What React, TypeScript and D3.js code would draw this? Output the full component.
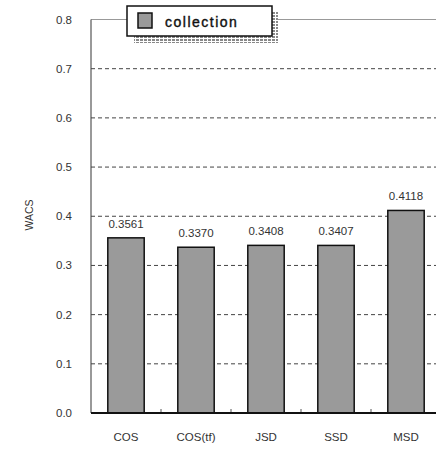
import React from "react";
import * as d3 from "d3";

const categories = ["COS", "COS(tf)", "JSD", "SSD", "MSD"];
const values = [0.3561, 0.337, 0.3408, 0.3407, 0.4118];
const valueLabels = ["0.3561", "0.3370", "0.3408", "0.3407", "0.4118"];
const yTicks = [0, 0.1, 0.2, 0.3, 0.4, 0.5, 0.6, 0.7, 0.8];
const seriesName = "collection";
const yTitle = "WACS";

const W = 436;
const H = 450;
const plot = { left: 91, right: 441, top: 19.5, bottom: 413 };
const font = "'Liberation Sans', Arial, sans-serif";

export default function App() {
  const x = d3
    .scaleBand<string>()
    .domain(categories)
    .range([plot.left, plot.right])
    .paddingInner(0.48)
    .paddingOuter(0.24);
  const y = d3.scaleLinear().domain([0, 0.8]).range([plot.bottom, plot.top]);
  const fmt = d3.format(".1f");
  const step = x.step();

  return (
    <svg
      width={W}
      height={H}
      style={{ position: "absolute", left: 0, top: 0, background: "#fff" }}
    >
      <defs>
        <pattern id="shadowHatch" width="4" height="3" patternUnits="userSpaceOnUse">
          <rect width="4" height="3" fill="#fff" />
          <rect width="3" height="2" fill="#888" />
        </pattern>
      </defs>

      {/* plot frame */}
      <line x1={plot.left} x2={W} y1={plot.top} y2={plot.top} stroke="#999" strokeWidth={1} />
      <line x1={plot.left} x2={plot.left} y1={plot.top} y2={plot.bottom} stroke="#555" strokeWidth={1.2} />

      {/* dashed gridlines */}
      {yTicks
        .filter((t) => t > 0 && t < 0.8)
        .map((t) => (
          <line
            key={t}
            x1={plot.left}
            x2={W}
            y1={y(t)}
            y2={y(t)}
            stroke="#444"
            strokeWidth={1}
            strokeDasharray="4,3"
          />
        ))}

      {/* y tick labels */}
      {yTicks.map((t) => (
        <text
          key={t}
          x={72}
          y={y(t) + 4}
          textAnchor="end"
          fontFamily={font}
          fontSize={11.5}
          fill="#333"
        >
          {fmt(t)}
        </text>
      ))}

      {/* y title */}
      <text
        transform={`translate(33,${215}) rotate(-90)`}
        textAnchor="middle"
        fontFamily={font}
        fontSize={10.5}
        fill="#333"
      >
        {yTitle}
      </text>

      {/* bars */}
      {categories.map((c, i) => (
        <rect
          key={c}
          x={x(c)}
          y={y(values[i])}
          width={x.bandwidth()}
          height={plot.bottom - y(values[i])}
          fill="#9a9a9a"
          stroke="#111"
          strokeWidth={1.5}
        />
      ))}

      {/* value labels */}
      {categories.map((c, i) => (
        <text
          key={c}
          x={(x(c) as number) + x.bandwidth() / 2}
          y={y(values[i]) - 10}
          textAnchor="middle"
          fontFamily={font}
          fontSize={11.5}
          fill="#333"
        >
          {valueLabels[i]}
        </text>
      ))}

      {/* category boundary ticks */}
      {categories.slice(1).map((c) => (
        <line
          key={c}
          x1={(x(c) as number) - (step - x.bandwidth()) / 2}
          x2={(x(c) as number) - (step - x.bandwidth()) / 2}
          y1={plot.bottom}
          y2={plot.bottom - 4}
          stroke="#555"
          strokeWidth={1}
        />
      ))}

      {/* x axis */}
      <line x1={plot.left} x2={W} y1={plot.bottom} y2={plot.bottom} stroke="#111" strokeWidth={2} />

      {/* category labels */}
      {categories.map((c) => (
        <text
          key={c}
          x={(x(c) as number) + x.bandwidth() / 2}
          y={441}
          textAnchor="middle"
          fontFamily={font}
          fontSize={11.5}
          fill="#333"
        >
          {c}
        </text>
      ))}

      {/* legend with hatched drop shadow */}
      <g>
        <rect x={134} y={36} width={144} height={7} fill="url(#shadowHatch)" />
        <rect x={272} y={12} width={6} height={31} fill="url(#shadowHatch)" />
        <rect x={127} y={6} width={145} height={30} fill="#fff" stroke="#111" strokeWidth={1.5} />
        <rect x={138} y={13} width={14} height={15} fill="#9a9a9a" stroke="#111" strokeWidth={1.5} />
        <text x={165} y={27} fontFamily={font} fontSize={14} fill="#111" letterSpacing={1.5} stroke="#111" strokeWidth={0.4}>
          {seriesName}
        </text>
      </g>
    </svg>
  );
}
